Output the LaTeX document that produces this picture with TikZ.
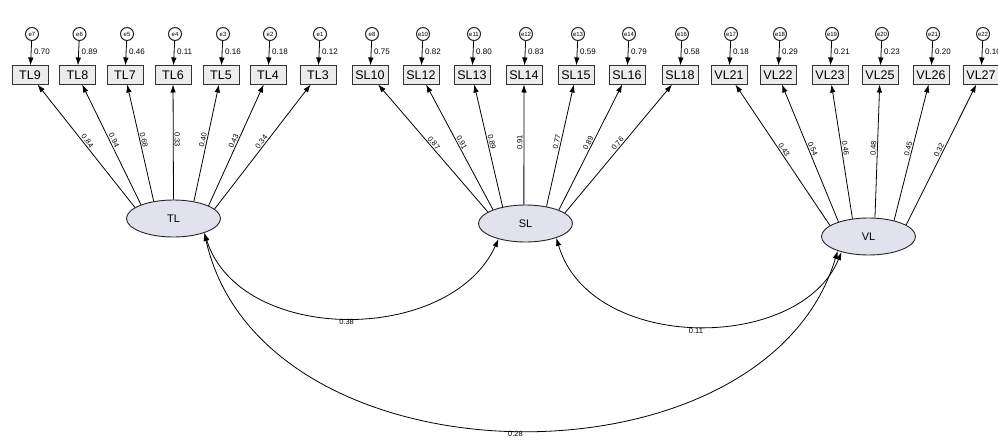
\documentclass[tikz,border=0pt]{standalone}
\usepackage{fontspec}
\setmainfont{Liberation Sans}
\usetikzlibrary{shapes.geometric,arrows.meta}
\definecolor{latfill}{RGB}{226,226,238}
\definecolor{obsfill}{RGB}{236,236,236}
\begin{document}
\begin{tikzpicture}[x=1pt,y=-1pt,
  obs/.style={draw=black!80, line width=1pt, fill=obsfill, minimum width=36pt, minimum height=18pt, inner sep=0pt, font=\fontsize{12.5}{12.5}\selectfont},
  err/.style={circle, draw=black!85, line width=1pt, fill=white, minimum size=13pt, inner sep=0pt, font=\fontsize{6}{6}\selectfont},
  lat/.style={ellipse, draw=black!85, line width=0.9pt, fill=latfill, minimum width=94pt, minimum height=37pt, inner sep=0pt, font=\fontsize{11}{11}\selectfont},
  arr/.style={-{Latex[length=8pt,width=5.5pt]}, line width=0.8pt},
  dbl/.style={{Latex[length=8pt,width=5.5pt]}-{Latex[length=8pt,width=5.5pt]}, line width=0.8pt},
  vlab/.style={font=\fontsize{8}{8}\selectfont, inner sep=0pt, anchor=west},
  llab/.style={font=\fontsize{7.5}{7.5}\selectfont, inner sep=1pt, sloped, above, pos=0.52},
  clab/.style={font=\fontsize{7.5}{7.5}\selectfont, inner sep=1.5pt, below}
]
\useasboundingbox (0,0) rectangle (998,444);
\clip (0,0) rectangle (998,444);
\fill[white] (0,0) rectangle (998,444);

% latent variables
\node[lat] (TL) at (173.5,218.5) {TL};
\node[lat] (SL) at (525.5,223.5) {SL};
\node[lat] (VL) at (868.5,236.5) {VL};

% indicators, errors, variances
\foreach \n/\x/\e/\v in {TL9/30/e7/0.70, TL8/77.5/e6/0.89, TL7/125/e5/0.46, TL6/173/e4/0.11, TL5/221/e3/0.16, TL4/268/e2/0.18, TL3/318/e1/0.12,
  SL10/370/e8/0.75, SL12/421/e10/0.82, SL13/472/e11/0.80, SL14/524/e12/0.83, SL15/576/e13/0.59, SL16/627/e14/0.79, SL18/680/e16/0.58,
  VL21/729/e17/0.18, VL22/778/e18/0.29, VL23/830/e19/0.21, VL25/880/e20/0.23, VL26/931/e21/0.20, VL27/981/e22/0.10} {
  \node[obs] (\n) at (\x,75) {\n};
  \node[err] (\e) at (\x+2,34) {\e};
  \draw[arr] (\e) -- (\n);
  \node[vlab] at (\x+4,52) {\v};
}

% loadings
\foreach \n/\a/\l in {TL9/164/0.84, TL8/157/0.94, TL7/139/0.68, TL6/90/0.33, TL5/40/0.40, TL4/20/0.43, TL3/13/0.34}
  \draw[arr] (TL.\a) -- (\n) node[llab] {\l};
\foreach \n/\a/\l in {SL10/163/0.87, SL12/157/0.91, SL13/144/0.89, SL14/95/0.91, SL15/39/0.77, SL16/22/0.89, SL18/15/0.76}
  \draw[arr] (SL.\a) -- (\n) node[llab] {\l};
\foreach \n/\a/\l in {VL21/164/0.43, VL22/154/0.54, VL23/132/0.46, VL25/71/0.48, VL26/32/0.45, VL27/17/0.32}
  \draw[arr] (VL.\a) -- (\n) node[llab] {\l};

% covariances
\draw[dbl] (TL.-25) .. controls (240,345) and (450,345) .. (SL.-150) node[pos=0.5, clab] {0.38};
\draw[dbl] (SL.-25) .. controls (590,353) and (800,353) .. (VL.-150) node[pos=0.5, clab] {0.11};
\draw[dbl] (TL.-25) .. controls (262,490) and (765,495) .. (VL.-155) node[pos=0.5, clab] {0.28};
\end{tikzpicture}
\end{document}
